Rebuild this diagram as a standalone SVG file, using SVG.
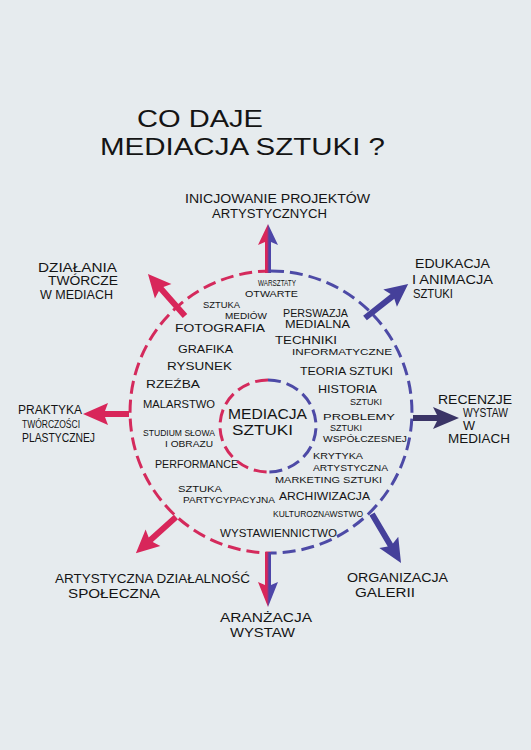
<svg xmlns="http://www.w3.org/2000/svg" width="531" height="750" viewBox="0 0 531 750">
<style>
text{font-family:"Liberation Sans","DejaVu Sans",sans-serif;fill:#141414;}
.t1{font-size:24px;}
.lb{font-size:12px;}
.sm{font-size:11px;}
.md{font-size:10px;}
.xs{font-size:9px;}
.ct{font-size:15px;}
.redd{fill:none;stroke:#d42a5c;stroke-width:3;stroke-dasharray:13 6;}
.blud{fill:none;stroke:#4d4aa6;stroke-width:3;stroke-dasharray:13 6;}
.ar{fill:#d8265a;}
.ab{fill:#45409a;}
.ak{fill:#3a3466;}
</style>
<defs>
<linearGradient id="mix" x1="0" y1="0" x2="0" y2="1">
<stop offset="0.45" stop-color="#d8265a"/>
<stop offset="0.55" stop-color="#4d46a8"/>
</linearGradient>
<linearGradient id="mix2" x1="0" y1="1" x2="0" y2="0">
<stop offset="0.45" stop-color="#d8265a"/>
<stop offset="0.55" stop-color="#4d46a8"/>
</linearGradient>
</defs>
<rect width="531" height="750" fill="#e6ebee"/>

<g id="title">
<text class="t1" x="137" y="127" textLength="126" lengthAdjust="spacingAndGlyphs">CO DAJE</text>
<text class="t1" x="100" y="155" textLength="285" lengthAdjust="spacingAndGlyphs">MEDIACJA SZTUKI ?</text>
</g>

<g id="connectors">
<path id="circle-outer-red" class="redd" d="M271 271 A141 141 0 0 0 271 553"/>
<path id="circle-outer-blue" class="blud" d="M271 271 A141 141 0 0 1 271 553"/>
<path id="circle-inner-red" class="redd" d="M268 380 A48 46 0 0 0 268 472"/>
<path id="circle-inner-blue" class="blud" d="M268 380 A48 46 0 0 1 268 472"/>
<path fill="url(#mix)" transform="translate(268,273) rotate(-90)" d="M0,-3 L31,-3 L28,-10 L49,0 L28,10 L31,3 L0,3 Z"/>
<path class="ar" transform="translate(185,316) rotate(-131.4)" d="M0,-3 L36,-3 L33,-11 L56,0 L33,11 L36,3 L0,3 Z"/>
<path class="ab" transform="translate(365,318) rotate(-38.3)" d="M0,-3 L35,-3 L32,-11 L55,0 L32,11 L35,3 L0,3 Z"/>
<path class="ar" transform="translate(129,414) rotate(180)" d="M0,-3 L24,-3 L21,-11 L46,0 L21,11 L24,3 L0,3 Z"/>
<path class="ak" transform="translate(413,418) rotate(0)" d="M0,-3 L24,-3 L20,-11 L46,0 L20,11 L24,3 L0,3 Z"/>
<path class="ar" transform="translate(176,517) rotate(138)" d="M0,-3 L34,-3 L31,-11 L54,0 L31,11 L34,3 L0,3 Z"/>
<path fill="url(#mix2)" transform="translate(268,552) rotate(90)" d="M0,-3 L33,-3 L30,-10 L55,0 L30,10 L33,3 L0,3 Z"/>
<path class="ab" transform="translate(372,514) rotate(59.4)" d="M0,-3 L36,-3 L33,-11 L57,0 L33,11 L36,3 L0,3 Z"/>
</g>

<g id="node-center">
<text class="ct" x="228" y="419" textLength="79" lengthAdjust="spacingAndGlyphs">MEDIACJA</text>
<text class="ct" x="232" y="435" textLength="61" lengthAdjust="spacingAndGlyphs">SZTUKI</text>
</g>

<g id="node-inicjowanie">
<text class="lb" x="185" y="203" textLength="185" lengthAdjust="spacingAndGlyphs">INICJOWANIE PROJEKTÓW</text>
<text class="lb" x="212" y="218" textLength="115" lengthAdjust="spacingAndGlyphs">ARTYSTYCZNYCH</text>
</g>
<g id="node-dzialania">
<text class="lb" x="38" y="272" textLength="79" lengthAdjust="spacingAndGlyphs">DZIAŁANIA</text>
<text class="lb" x="48" y="285" textLength="70" lengthAdjust="spacingAndGlyphs">TWÓRCZE</text>
<text class="lb" x="40" y="299" textLength="73" lengthAdjust="spacingAndGlyphs">W MEDIACH</text>
</g>
<g id="node-edukacja">
<text class="lb" x="415" y="268" textLength="75" lengthAdjust="spacingAndGlyphs">EDUKACJA</text>
<text class="lb" x="412" y="284" textLength="81" lengthAdjust="spacingAndGlyphs">I ANIMACJA</text>
<text class="lb" x="413" y="298" textLength="40" lengthAdjust="spacingAndGlyphs">SZTUKI</text>
</g>
<g id="node-praktyka">
<text class="lb" x="18" y="414" textLength="64" lengthAdjust="spacingAndGlyphs">PRAKTYKA</text>
<text class="md" x="22" y="428" textLength="58" lengthAdjust="spacingAndGlyphs">TWÓRCZOŚCI</text>
<text class="lb" x="22" y="442" textLength="73" lengthAdjust="spacingAndGlyphs">PLASTYCZNEJ</text>
</g>
<g id="node-recenzje">
<text class="lb" x="438" y="404" textLength="74" lengthAdjust="spacingAndGlyphs">RECENZJE</text>
<text class="lb" x="463" y="417" textLength="45" lengthAdjust="spacingAndGlyphs">WYSTAW</text>
<text class="lb" x="463" y="430" textLength="12" lengthAdjust="spacingAndGlyphs">W</text>
<text class="lb" x="448" y="443" textLength="62" lengthAdjust="spacingAndGlyphs">MEDIACH</text>
</g>
<g id="node-artystyczna">
<text class="lb" x="55" y="583" textLength="195" lengthAdjust="spacingAndGlyphs">ARTYSTYCZNA DZIAŁALNOŚĆ</text>
<text class="lb" x="68" y="598" textLength="92" lengthAdjust="spacingAndGlyphs">SPOŁECZNA</text>
</g>
<g id="node-aranzacja">
<text class="lb" x="220" y="622" textLength="92" lengthAdjust="spacingAndGlyphs">ARANŻACJA</text>
<text class="lb" x="230" y="637" textLength="65" lengthAdjust="spacingAndGlyphs">WYSTAW</text>
</g>
<g id="node-organizacja">
<text class="lb" x="347" y="582" textLength="101" lengthAdjust="spacingAndGlyphs">ORGANIZACJA</text>
<text class="lb" x="355" y="597" textLength="60" lengthAdjust="spacingAndGlyphs">GALERII</text>
</g>

<g id="inner-items">
<text class="xs" x="258" y="286" textLength="38" lengthAdjust="spacingAndGlyphs">WARSZTATY</text>
<text class="xs" x="245" y="297" textLength="53" lengthAdjust="spacingAndGlyphs">OTWARTE</text>
<text class="xs" x="203" y="308" textLength="37" lengthAdjust="spacingAndGlyphs">SZTUKA</text>
<text class="xs" x="225" y="319" textLength="42" lengthAdjust="spacingAndGlyphs">MEDIÓW</text>
<text class="sm" x="175" y="332" textLength="90" lengthAdjust="spacingAndGlyphs">FOTOGRAFIA</text>
<text class="sm" x="178" y="353" textLength="55" lengthAdjust="spacingAndGlyphs">GRAFIKA</text>
<text class="sm" x="167" y="370" textLength="65" lengthAdjust="spacingAndGlyphs">RYSUNEK</text>
<text class="sm" x="146" y="388" textLength="54" lengthAdjust="spacingAndGlyphs">RZEŹBA</text>
<text class="sm" x="143" y="408" textLength="72" lengthAdjust="spacingAndGlyphs">MALARSTWO</text>
<text class="xs" x="143" y="436" textLength="72" lengthAdjust="spacingAndGlyphs">STUDIUM SŁOWA</text>
<text class="xs" x="165" y="447" textLength="48" lengthAdjust="spacingAndGlyphs">I OBRAZU</text>
<text class="sm" x="155" y="468" textLength="83" lengthAdjust="spacingAndGlyphs">PERFORMANCE</text>
<text class="xs" x="178" y="492" textLength="44" lengthAdjust="spacingAndGlyphs">SZTUKA</text>
<text class="xs" x="183" y="503" textLength="92" lengthAdjust="spacingAndGlyphs">PARTYCYPACYJNA</text>
<text class="sm" x="220" y="537" textLength="117" lengthAdjust="spacingAndGlyphs">WYSTAWIENNICTWO</text>
<text class="xs" x="273" y="517" textLength="90" lengthAdjust="spacingAndGlyphs">KULTUROZNAWSTWO</text>
<text class="sm" x="279" y="500" textLength="91" lengthAdjust="spacingAndGlyphs">ARCHIWIZACJA</text>
<text class="xs" x="275" y="483" textLength="107" lengthAdjust="spacingAndGlyphs">MARKETING SZTUKI</text>
<text class="xs" x="313" y="459" textLength="50" lengthAdjust="spacingAndGlyphs">KRYTYKA</text>
<text class="xs" x="313" y="471" textLength="75" lengthAdjust="spacingAndGlyphs">ARTYSTYCZNA</text>
<text class="xs" x="323" y="420" textLength="72" lengthAdjust="spacingAndGlyphs">PROBLEMY</text>
<text class="xs" x="330" y="431" textLength="32" lengthAdjust="spacingAndGlyphs">SZTUKI</text>
<text class="xs" x="323" y="442" textLength="84" lengthAdjust="spacingAndGlyphs">WSPÓŁCZESNEJ</text>
<text class="sm" x="318" y="393" textLength="59" lengthAdjust="spacingAndGlyphs">HISTORIA</text>
<text class="xs" x="350" y="405" textLength="32" lengthAdjust="spacingAndGlyphs">SZTUKI</text>
<text class="sm" x="300" y="375" textLength="93" lengthAdjust="spacingAndGlyphs">TEORIA SZTUKI</text>
<text class="md" x="275" y="344" textLength="62" lengthAdjust="spacingAndGlyphs">TECHNIKI</text>
<text class="xs" x="292" y="355" textLength="100" lengthAdjust="spacingAndGlyphs">INFORMATYCZNE</text>
<text class="md" x="283" y="317" textLength="65" lengthAdjust="spacingAndGlyphs">PERSWAZJA</text>
<text class="md" x="285" y="328" textLength="65" lengthAdjust="spacingAndGlyphs">MEDIALNA</text>
</g>
</svg>
